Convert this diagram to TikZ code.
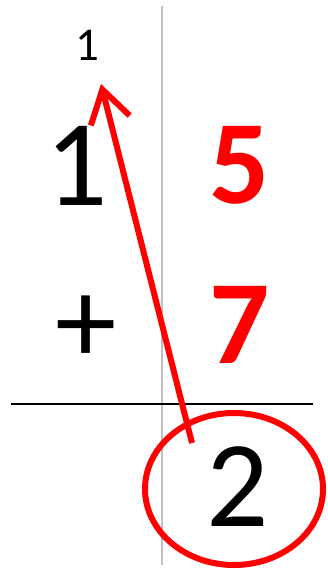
\documentclass[tikz,border=0pt]{standalone}
\usepackage{fontspec}
\setmainfont{Carlito}
\usepackage{tikz}
\usetikzlibrary{arrows.meta}

\begin{document}
\begin{tikzpicture}[
    x=1pt, y=-1pt,
    digit/.style={inner sep=0pt, font=\fontsize{123}{123}\selectfont},
    reddigit/.style={digit, text=red, font=\fontsize{119}{119}\selectfont\bfseries},
    carry/.style={inner sep=0pt, font=\fontsize{47}{47}\selectfont},
    divider/.style={draw=black!25, line width=2.5pt},
    sumline/.style={draw=black, line width=2.2pt},
    ring/.style={draw=red, line width=6pt},
    arr/.style={-{Straight Barb[length=32pt, width=40pt]}, draw=red, line width=6pt}
]
    \fill[white] (0,0) rectangle (328,569);
    \useasboundingbox (0,0) rectangle (328,569);
    % column rule and sum line
    \draw[divider] (162,6) -- (162,565);
    \draw[sumline] (11,404) -- (313,404);
    % digits
    \node[carry] (carryone) at (87,45) {1};
    \node[digit] (tens) at (77,166) {1};
    \node[reddigit] (five) at (240,165) {5};
    \node[digit] (plus) at (86,330) {+};
    \node[reddigit] (seven) at (240,325) {7};
    \node[digit] (result) at (238,487) {2};
    \draw[ring] (234,489) ellipse [x radius=89pt, y radius=76pt];
    % carry arrow
    \coordinate (carryfrom) at (192,443);
    \coordinate (carryto) at (101,84);
    \draw[arr] (carryfrom) -- (carryto);
\end{tikzpicture}
\end{document}
